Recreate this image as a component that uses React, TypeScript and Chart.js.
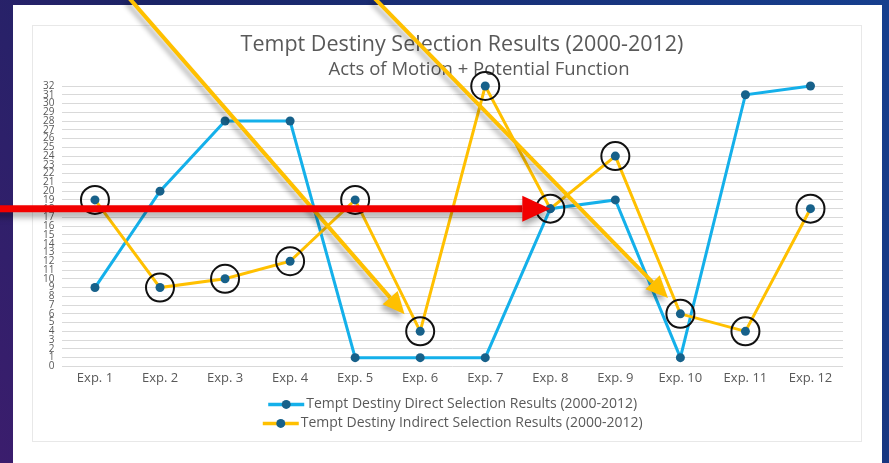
import React, { useEffect, useRef } from "react";
import { Chart, registerables } from "chart.js";

Chart.register(...registerables);

const categories = ["Exp. 1", "Exp. 2", "Exp. 3", "Exp. 4", "Exp. 5", "Exp. 6", "Exp. 7", "Exp. 8", "Exp. 9", "Exp. 10", "Exp. 11", "Exp. 12"];
const directValues = [9, 20, 28, 28, 1, 1, 1, 18, 19, 1, 31, 32];
const indirectValues = [19, 9, 10, 12, 19, 4, 32, 18, 24, 6, 4, 18];
const yMin = 0;
const yMax = 32;
const yStep = 1;

const titleText = "Tempt Destiny Selection Results (2000-2012)";
const subtitleText = "Acts of Motion + Potential Function";
const directLabel = "Tempt Destiny Direct Selection Results (2000-2012)";
const indirectLabel = "Tempt Destiny Indirect Selection Results (2000-2012)";

// Overlay annotation arrows, in data units: [category index, value]
const yellowArrowFrom = [[0.53, 42], [4.3, 42]];
const yellowArrowTo = [[4.76, 5.96], [8.81, 7.8]];
const redArrowFrom = [-1.6, 18];
const redArrowTo = [7, 18];

const DIRECT_COLOR = "#14b0ea";
const INDIRECT_COLOR = "#ffc000";
const POINT_COLOR = "#17618a";
const TEXT_COLOR = "#595959";
const FONT = "'Open Sans', 'Noto Sans', sans-serif";

function drawArrow(ctx: CanvasRenderingContext2D, x1: number, y1: number, x2: number, y2: number, lw: number, headLen: number, headW: number, color: string) {
  const ang = Math.atan2(y2 - y1, x2 - x1);
  const bx = x2 - Math.cos(ang) * headLen;
  const by = y2 - Math.sin(ang) * headLen;
  ctx.strokeStyle = color;
  ctx.fillStyle = color;
  ctx.lineWidth = lw;
  ctx.lineCap = "butt";
  ctx.beginPath();
  ctx.moveTo(x1, y1);
  ctx.lineTo(bx, by);
  ctx.stroke();
  const nx = -Math.sin(ang);
  const ny = Math.cos(ang);
  ctx.beginPath();
  ctx.moveTo(x2, y2);
  ctx.lineTo(bx + nx * headW / 2, by + ny * headW / 2);
  ctx.lineTo(bx - nx * headW / 2, by - ny * headW / 2);
  ctx.closePath();
  ctx.fill();
}

const decorPlugin = {
  id: "decor",
  beforeDraw(chart: any) {
    const ctx = chart.ctx as CanvasRenderingContext2D;
    const { width, height } = chart;
    ctx.save();
    const g = ctx.createLinearGradient(0, height, width, 0);
    g.addColorStop(0, "#3b1d6d");
    g.addColorStop(0.35, "#1b2466");
    g.addColorStop(1, "#163f8e");
    ctx.fillStyle = g;
    ctx.fillRect(0, 0, width, height);
    ctx.fillStyle = "#ffffff";
    ctx.fillRect(13, 5, 869, height - 5);
    ctx.strokeStyle = "#e8e8e8";
    ctx.lineWidth = 1;
    ctx.strokeRect(32.5, 25.5, 829, 416);
    // titles
    ctx.fillStyle = TEXT_COLOR;
    ctx.textAlign = "center";
    ctx.textBaseline = "alphabetic";
    ctx.font = "21.5px " + FONT;
    ctx.fillText(titleText, 462, 51);
    ctx.font = "18.5px " + FONT;
    ctx.fillText(subtitleText, 479, 75);
    ctx.restore();
  },
  afterDraw(chart: any) {
    const ctx = chart.ctx as CanvasRenderingContext2D;
    const area = chart.chartArea;
    const xs = chart.scales.x;
    const ys = chart.scales.y;
    // custom legend
    ctx.save();
    ctx.font = "14px " + FONT;
    const items = [
      { label: directLabel, color: DIRECT_COLOR },
      { label: indirectLabel, color: INDIRECT_COLOR },
    ];
    const cx = (area.left + area.right) / 2;
    items.forEach((it, k) => {
      const y = area.bottom + 38 + k * 19;
      const tw = ctx.measureText(it.label).width;
      const total = 36 + 2 + tw;
      const x0 = cx - total / 2;
      ctx.strokeStyle = it.color;
      ctx.lineWidth = 3.5;
      ctx.beginPath();
      ctx.moveTo(x0, y);
      ctx.lineTo(x0 + 36, y);
      ctx.stroke();
      ctx.fillStyle = POINT_COLOR;
      ctx.beginPath();
      ctx.arc(x0 + 18, y, 4.5, 0, Math.PI * 2);
      ctx.fill();
      ctx.fillStyle = TEXT_COLOR;
      ctx.textBaseline = "middle";
      ctx.textAlign = "left";
      ctx.fillText(it.label, x0 + 38, y);
    });
    ctx.restore();

    // overlay arrows
    ctx.save();
    ctx.shadowColor = "rgba(0,0,0,0.3)";
    ctx.shadowBlur = 5;
    ctx.shadowOffsetX = -3;
    ctx.shadowOffsetY = 4;
    yellowArrowFrom.forEach((f, k) => {
      const t = yellowArrowTo[k];
      drawArrow(ctx, xs.getPixelForValue(f[0]), ys.getPixelForValue(f[1]), xs.getPixelForValue(t[0]), ys.getPixelForValue(t[1]), 4, 22, 20, INDIRECT_COLOR);
    });
    ctx.shadowColor = "rgba(0,0,0,0.35)";
    ctx.shadowBlur = 6;
    ctx.shadowOffsetX = 0;
    ctx.shadowOffsetY = 5;
    drawArrow(ctx, xs.getPixelForValue(redArrowFrom[0]), ys.getPixelForValue(redArrowFrom[1]), xs.getPixelForValue(redArrowTo[0]), ys.getPixelForValue(redArrowTo[1]), 7, 28, 26, "#f20000");
    ctx.restore();
  },
};

export default function App() {
  const ref = useRef<HTMLCanvasElement | null>(null);
  useEffect(() => {
    const canvas = ref.current;
    if (!canvas) return;
    const chart = new Chart(canvas, {
      type: "line",
      data: {
        labels: categories,
        datasets: [
          {
            label: "circles",
            data: indirectValues,
            showLine: false,
            pointRadius: 14,
            pointBorderWidth: 2,
            pointBorderColor: "#111111",
            pointBackgroundColor: "rgba(0,0,0,0)",
            clip: false,
            order: 0,
          },
          {
            label: indirectLabel,
            data: indirectValues,
            borderColor: INDIRECT_COLOR,
            borderWidth: 3,
            pointRadius: 4.5,
            pointBorderWidth: 0,
            pointBackgroundColor: POINT_COLOR,
            tension: 0,
            clip: false,
            order: 1,
          },
          {
            label: directLabel,
            data: directValues,
            borderColor: DIRECT_COLOR,
            borderWidth: 3,
            pointRadius: 4.5,
            pointBorderWidth: 0,
            pointBackgroundColor: POINT_COLOR,
            tension: 0,
            clip: false,
            order: 2,
          },
        ],
      },
      options: {
        responsive: false,
        animation: false,
        devicePixelRatio: 1,
        layout: { padding: { left: 35, right: 46, top: 86, bottom: 73 } },
        plugins: {
          legend: { display: false },
          tooltip: { enabled: false },
          title: { display: false },
        },
        scales: {
          x: {
            offset: true,
            grid: { display: false, drawTicks: false },
            border: { display: false },
            ticks: { color: TEXT_COLOR, font: { size: 13, family: FONT }, padding: 4, maxRotation: 0 },
          },
          y: {
            min: yMin,
            max: yMax,
            grid: { color: "#d9d9d9", lineWidth: 1, drawTicks: false },
            border: { display: false },
            ticks: { stepSize: yStep, autoSkip: false, color: TEXT_COLOR, font: { size: 10, family: FONT, lineHeight: 1 }, padding: 8 },
          },
        },
      },
      plugins: [decorPlugin],
    });
    return () => chart.destroy();
  }, []);
  return (
    <div style={{ position: "fixed", left: 0, top: 0, width: 889, height: 463 }}>
      <canvas ref={ref} width={889} height={463} style={{ display: "block" }} />
    </div>
  );
}
